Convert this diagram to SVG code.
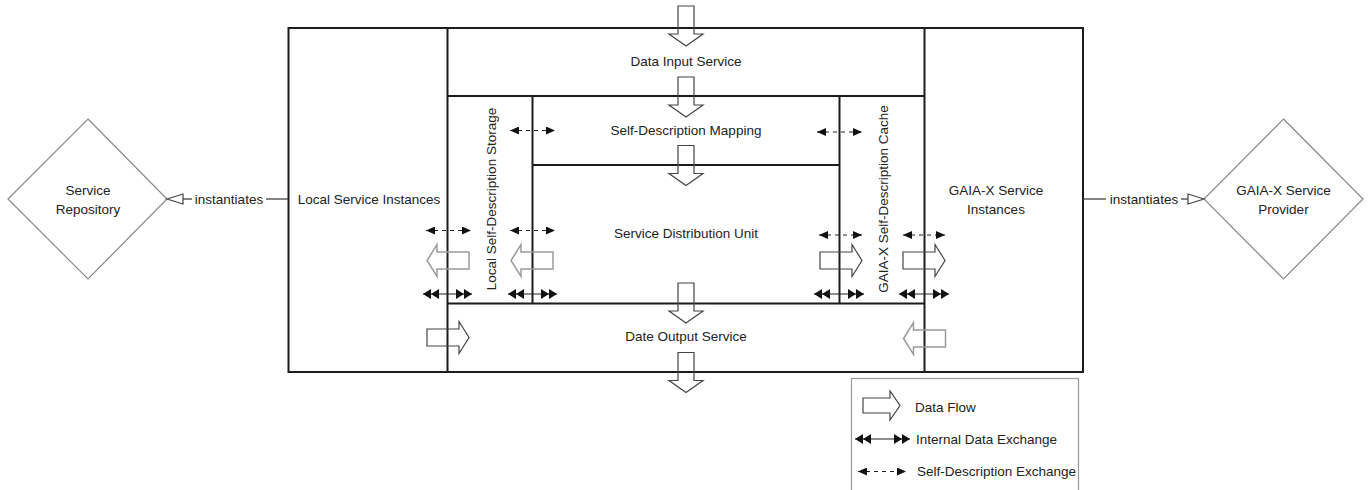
<svg xmlns="http://www.w3.org/2000/svg" width="1370" height="490" viewBox="0 0 1370 490">
<style>
text{font-family:"Liberation Sans",Arial,sans-serif;font-size:13.5px;fill:#222}
.c{text-anchor:middle}
.frame{fill:none;stroke:#1c1c1c;stroke-width:2}
.dia{fill:#fff;stroke:#888;stroke-width:1.2}
.blk{fill:none;stroke:#444;stroke-width:1.2}
.blkg{fill:none;stroke:#9a9a9a;stroke-width:1.5}
.sd{stroke:#222;stroke-width:1;stroke-dasharray:4 4;fill:none}
.ide{stroke:#222;stroke-width:1.2;fill:none}
.conn{stroke:#333;stroke-width:1.2;fill:none}
</style>
<defs>
<marker id="mSd" viewBox="0 0 9 8" refX="9" refY="4" markerWidth="9" markerHeight="8" markerUnits="userSpaceOnUse" orient="auto-start-reverse">
<path d="M0,0 L9,4 L0,8 Z" fill="#111"/>
</marker>
<marker id="mDbl" viewBox="0 0 16 10" refX="16" refY="5" markerWidth="16" markerHeight="10" markerUnits="userSpaceOnUse" orient="auto-start-reverse">
<path d="M0,0 L8,5 L0,10 Z M8,0 L16,5 L8,10 Z" fill="#111"/>
</marker>
<path id="aDown" d="M-8,0 H8 V28 H17 L0,40 L-17,28 H-8 Z"/>
<path id="aRight" d="M0,-8.5 H32 V-16 L42,0 L32,16 V8.5 H0 Z"/>
<path id="aLeft" d="M0,-8.5 H-32 V-16 L-42,0 L-32,16 V8.5 H0 Z"/>
</defs>

<g id="left-diamond">
<path class="dia" d="M88,119 L167,199 L88,279 L8,199 Z"/>
<text class="c" x="88" y="195">Service</text>
<text class="c" x="88" y="214">Repository</text>
</g>
<g id="right-diamond">
<path class="dia" d="M1283.5,119 L1363,199 L1283.5,279 L1204,199 Z"/>
<text class="c" x="1283.5" y="195">GAIA-X Service</text>
<text class="c" x="1283.5" y="214">Provider</text>
</g>

<g id="frame">
<rect class="frame" x="288.5" y="28" width="794.5" height="344"/>
<line class="frame" x1="447.5" y1="28" x2="447.5" y2="372"/>
<line class="frame" x1="924.5" y1="28" x2="924.5" y2="372"/>
<line class="frame" x1="447.5" y1="96" x2="924.5" y2="96"/>
<line class="frame" x1="447.5" y1="303.5" x2="924.5" y2="303.5"/>
<line class="frame" x1="532.5" y1="96" x2="532.5" y2="303.5"/>
<line class="frame" x1="839.5" y1="96" x2="839.5" y2="303.5"/>
<line class="frame" x1="532.5" y1="165" x2="839.5" y2="165"/>
</g>

<g id="local-service-instances"><text class="c" x="369" y="204">Local Service Instances</text></g>
<g id="gaiax-service-instances"><text class="c" x="996" y="195">GAIA-X Service</text><text class="c" x="996" y="214">Instances</text></g>
<g id="data-input-service"><text class="c" x="686" y="66">Data Input Service</text></g>
<g id="sd-mapping"><text class="c" x="686" y="135">Self-Description Mapping</text></g>
<g id="service-distribution-unit"><text class="c" x="686" y="238">Service Distribution Unit</text></g>
<g id="date-output-service"><text class="c" x="686" y="341">Date Output Service</text></g>
<g id="local-sd-storage"><text class="c" transform="translate(496,199) rotate(-90)">Local Self-Description Storage</text></g>
<g id="gaiax-sd-cache"><text class="c" transform="translate(888,199) rotate(-90)">GAIA-X Self-Description Cache</text></g>

<g id="connectors">
<line class="conn" x1="183" y1="199" x2="192" y2="199"/>
<line class="conn" x1="266" y1="199" x2="288" y2="199"/>
<path d="M167,199 L183,194 L183,204 Z" fill="#fff" stroke="#444" stroke-width="1.2"/>
<text class="c" x="229" y="204">instantiates</text>
<line class="conn" x1="1083" y1="199" x2="1106" y2="199"/>
<line class="conn" x1="1181" y1="199" x2="1188" y2="199"/>
<path d="M1204,199 L1188,194 L1188,204 Z" fill="#fff" stroke="#444" stroke-width="1.2"/>
<text class="c" x="1144" y="204">instantiates</text>

<use href="#aDown" class="blk" x="686" y="6"/>
<use href="#aDown" class="blk" x="686" y="77"/>
<use href="#aDown" class="blk" x="686" y="145.5"/>
<use href="#aDown" class="blk" x="686" y="283"/>
<use href="#aDown" class="blk" x="686" y="352.5"/>

<use href="#aLeft" class="blkg" x="469" y="260.5"/>
<use href="#aLeft" class="blkg" x="553" y="260.5"/>
<use href="#aRight" class="blk" x="820" y="260.5"/>
<use href="#aRight" class="blk" x="903" y="260.5"/>
<use href="#aRight" class="blk" x="427" y="337.5"/>
<use href="#aLeft" class="blkg" x="945.5" y="338.5"/>

<line class="sd" x1="426" y1="230.5" x2="471" y2="230.5" marker-start="url(#mSd)" marker-end="url(#mSd)"/>
<line class="sd" x1="510" y1="230.5" x2="555" y2="230.5" marker-start="url(#mSd)" marker-end="url(#mSd)"/>
<line class="sd" x1="510" y1="130.5" x2="555" y2="130.5" marker-start="url(#mSd)" marker-end="url(#mSd)"/>
<line class="sd" x1="817" y1="132" x2="862" y2="132" marker-start="url(#mSd)" marker-end="url(#mSd)"/>
<line class="sd" x1="819" y1="235" x2="862" y2="235" marker-start="url(#mSd)" marker-end="url(#mSd)"/>
<line class="sd" x1="903" y1="235" x2="945" y2="235" marker-start="url(#mSd)" marker-end="url(#mSd)"/>

<line class="ide" x1="423" y1="294" x2="472" y2="294" marker-start="url(#mDbl)" marker-end="url(#mDbl)"/>
<line class="ide" x1="508" y1="294" x2="557" y2="294" marker-start="url(#mDbl)" marker-end="url(#mDbl)"/>
<line class="ide" x1="814" y1="294" x2="864" y2="294" marker-start="url(#mDbl)" marker-end="url(#mDbl)"/>
<line class="ide" x1="899" y1="294" x2="949" y2="294" marker-start="url(#mDbl)" marker-end="url(#mDbl)"/>
</g>

<g id="legend">
<rect x="851.5" y="378.5" width="227" height="130" fill="none" stroke="#999" stroke-width="1.2"/>
<path class="blk" d="M863,398 H890 V391 L900,405.5 L890,420 V413 H863 Z"/>
<text x="915" y="412">Data Flow</text>
<line class="ide" x1="855" y1="439" x2="910" y2="439" marker-start="url(#mDbl)" marker-end="url(#mDbl)"/>
<text x="916" y="443.5">Internal Data Exchange</text>
<line class="sd" x1="858" y1="471.5" x2="906" y2="471.5" marker-start="url(#mSd)" marker-end="url(#mSd)"/>
<text x="917" y="476">Self-Description Exchange</text>
</g>
</svg>
